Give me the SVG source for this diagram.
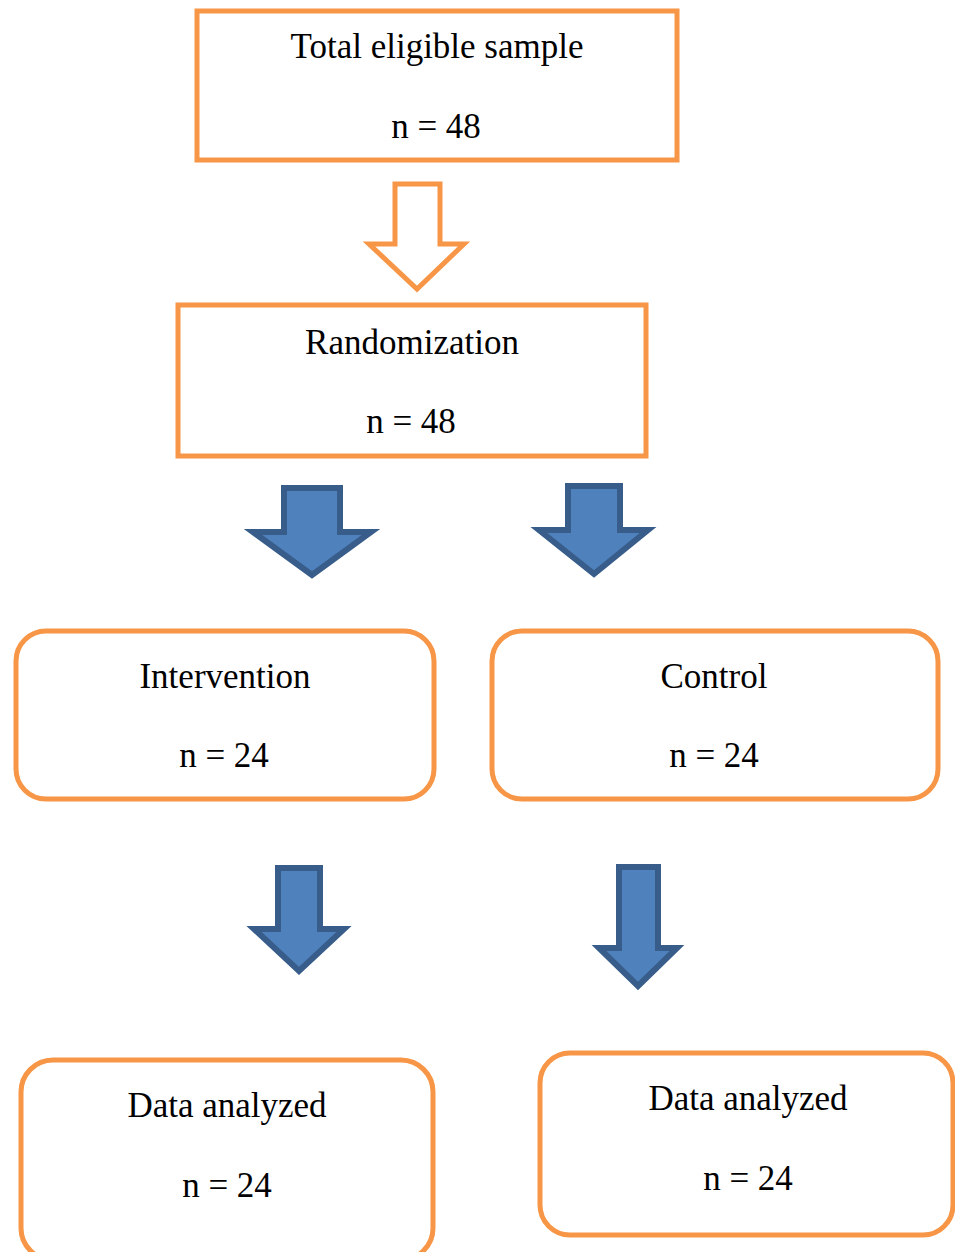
<svg xmlns="http://www.w3.org/2000/svg" width="955" height="1252" viewBox="0 0 955 1252">
<style>
.box{fill:#fff;stroke:#F79646;stroke-width:5}
.t{font-family:"Liberation Serif","Times New Roman",serif;font-size:35px;fill:#000;text-anchor:middle}
.ba{fill:#4F81BD;stroke:#385D8A;stroke-width:6;stroke-linejoin:miter}
.oa{fill:#fff;stroke:#F79646;stroke-width:5;stroke-linejoin:miter}
</style>
<rect width="955" height="1252" fill="#fff"/>
<g id="connectors">
<path class="oa" d="M395,184 H440 V244 H464 L417,289 L369,244 H395 Z"/>
<path class="ba" d="M284,488 H340 V532 H371 L312,575 L253,532 H284 Z"/>
<path class="ba" d="M568,486 H620 V530 H648 L594,574 L539,530 H568 Z"/>
<path class="ba" d="M278,868 H320 V929 H344 L299,971 L254,929 H278 Z"/>
<path class="ba" d="M619,867 H658 V948 H677 L638,986 L599,948 H619 Z"/>
</g>
<g id="total">
<rect class="box" x="197" y="11" width="480" height="149"/>
<text class="t" x="437" y="58">Total eligible sample</text>
<text class="t" x="436" y="138">n = 48</text>
</g>
<g id="randomization">
<rect class="box" x="178" y="305" width="468" height="151"/>
<text class="t" x="412" y="354">Randomization</text>
<text class="t" x="411" y="433">n = 48</text>
</g>
<g id="intervention">
<rect class="box" x="16" y="631" width="418" height="168" rx="30"/>
<text class="t" x="225" y="688">Intervention</text>
<text class="t" x="224" y="767">n = 24</text>
</g>
<g id="control">
<rect class="box" x="492" y="631" width="446" height="168" rx="30"/>
<text class="t" x="714" y="688">Control</text>
<text class="t" x="714" y="767">n = 24</text>
</g>
<g id="data-left">
<rect class="box" x="21" y="1060" width="412" height="200" rx="32"/>
<text class="t" x="227" y="1117">Data analyzed</text>
<text class="t" x="227" y="1197">n = 24</text>
</g>
<g id="data-right">
<rect class="box" x="540" y="1053" width="413" height="182" rx="30"/>
<text class="t" x="748" y="1110">Data analyzed</text>
<text class="t" x="748" y="1190">n = 24</text>
</g>
</svg>
